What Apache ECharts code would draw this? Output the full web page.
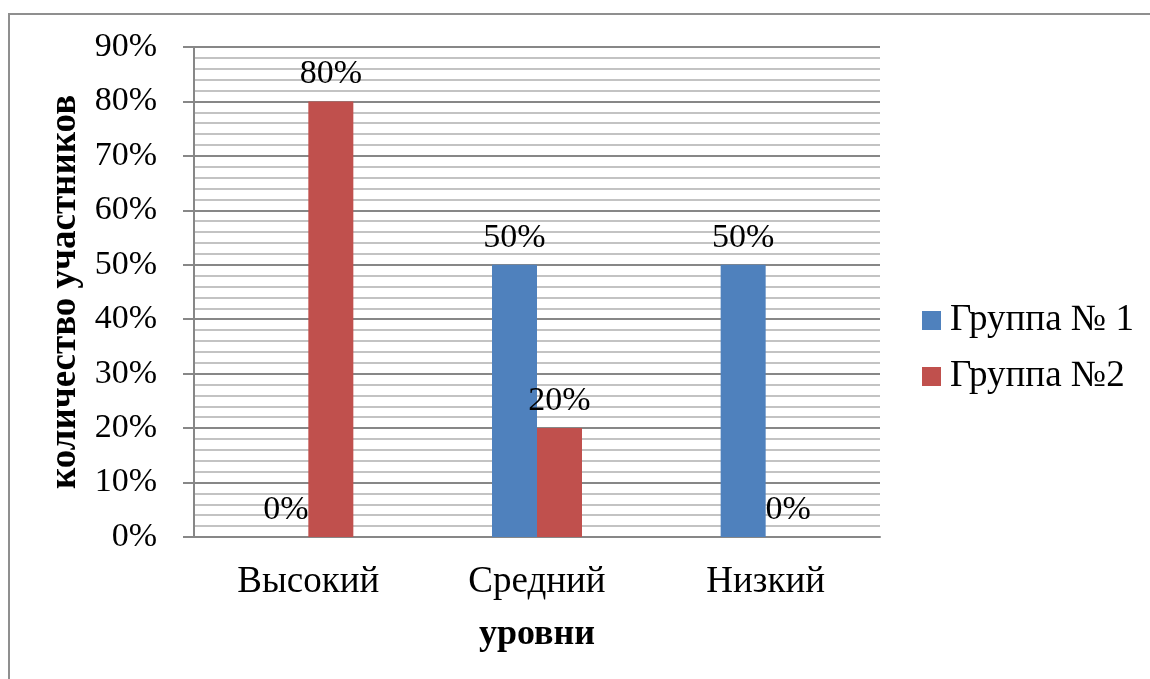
<!DOCTYPE html>
<html>
<head>
<meta charset="utf-8">
<style>
  html, body { margin: 0; padding: 0; background: #fff; }
  #chart { width: 1150px; height: 679px; }
</style>
<script src="https://cdn.jsdelivr.net/npm/echarts@6/dist/echarts.min.js"></script>
</head>
<body>
<div id="chart"></div>
<script>
// Уровни и доли участников по группам
const categories = ['Высокий', 'Средний', 'Низкий'];
const group1 = [0, 50, 50];
const group2 = [80, 20, 0];
const seriesNames = ['Группа № 1', 'Группа №2'];
const yAxisTitle = 'количество участников';
const xAxisTitle = 'уровни';

const FONT = '"Liberation Serif", "Times New Roman", serif';
const chart = echarts.init(document.getElementById('chart'), null, { renderer: 'canvas' });

const labelStyle = {
  show: true,
  position: 'top',
  distance: 10,
  formatter: p => p.value + '%',
  fontFamily: FONT,
  fontSize: 34,
  color: '#000'
};

chart.setOption({
  backgroundColor: '#fff',
  animation: false,
  graphic: [{
    type: 'rect',
    shape: { x: 9, y: 14, width: 1300, height: 900 },
    style: { fill: 'none', stroke: '#8f8f8f', lineWidth: 2 },
    silent: true,
    z: -10
  }],
  grid: { left: 194, right: 270, top: 47, bottom: 142, containLabel: false },
  legend: {
    orient: 'vertical',
    left: 922,
    top: 302,
    padding: 0,
    itemWidth: 19,
    itemHeight: 19,
    itemGap: 19,
    icon: 'rect',
    textStyle: { fontFamily: FONT, fontSize: 37, color: '#000', padding: [0, 0, 0, 4] },
    data: seriesNames
  },
  xAxis: {
    type: 'category',
    data: categories,
    name: xAxisTitle,
    nameLocation: 'middle',
    nameGap: 80,
    nameTextStyle: { fontFamily: FONT, fontSize: 36, fontWeight: 'bold', color: '#000' },
    axisLine: { show: true, lineStyle: { color: '#878787', width: 2 } },
    axisTick: { show: false },
    axisLabel: { fontFamily: FONT, fontSize: 37, color: '#000', margin: 27 },
    splitLine: { show: false }
  },
  yAxis: {
    type: 'value',
    min: 0,
    max: 90,
    interval: 10,
    name: yAxisTitle,
    nameLocation: 'middle',
    nameGap: 110,
    nameRotate: 90,
    nameTextStyle: { fontFamily: FONT, fontSize: 37, fontWeight: 'bold', color: '#000' },
    axisLine: { show: true, lineStyle: { color: '#878787', width: 2 } },
    axisTick: { show: true, inside: false, length: 11, lineStyle: { color: '#878787', width: 2 } },
    axisLabel: { fontFamily: FONT, fontSize: 34, color: '#000', margin: 37, formatter: '{value}%' },
    splitLine: { show: true, lineStyle: { color: '#878787', width: 2 } },
    minorTick: { show: false, splitNumber: 5 },
    minorSplitLine: { show: true, lineStyle: { color: '#c3c3c3', width: 2 } }
  },
  series: [
    {
      name: seriesNames[0],
      type: 'bar',
      data: group1,
      barWidth: 45,
      barGap: '0%',
      itemStyle: { color: '#4F81BD' },
      label: labelStyle
    },
    {
      name: seriesNames[1],
      type: 'bar',
      data: group2,
      barWidth: 45,
      barGap: '0%',
      itemStyle: { color: '#C0504D' },
      label: labelStyle
    }
  ]
});
</script>
</body>
</html>
